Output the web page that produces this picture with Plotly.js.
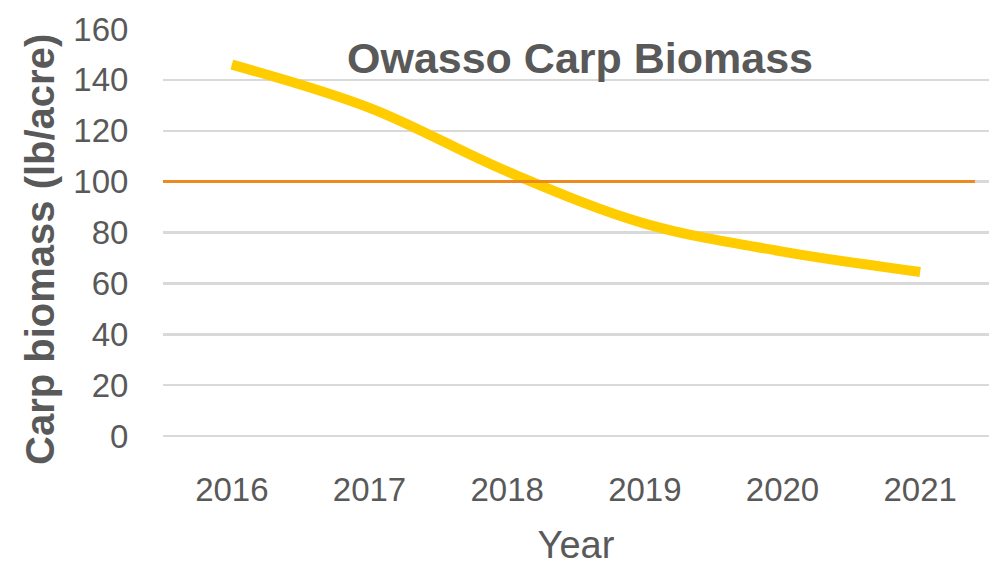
<!DOCTYPE html>
<html>
<head>
<meta charset="utf-8">
<script src="https://cdn.plot.ly/plotly-3.0.1.min.js"></script>
<style>html,body{margin:0;padding:0;background:#fff;}#chart{width:995px;height:566px;}</style>
</head>
<body>
<div id="chart"></div>
<script>
const years = ['2016', '2017', '2018', '2019', '2020', '2021'];
const biomass = [146, 129, 104, 83.5, 72.5, 64.5];
const target = 100;
const yTicks = [0, 20, 40, 60, 80, 100, 120, 140, 160];

const textColor = '#595959';
const font = 'Liberation Sans, Arial, sans-serif';

const data = [{
  x: years,
  y: biomass,
  type: 'scatter',
  mode: 'lines',
  line: {color: '#FFCC00', width: 10, shape: 'spline', smoothing: 1},
  hoverinfo: 'x+y'
}];

const layout = {
  width: 995,
  height: 566,
  margin: {l: 163, r: 6, t: 29, b: 130},
  paper_bgcolor: '#ffffff',
  plot_bgcolor: '#ffffff',
  showlegend: false,
  title: {
    text: '<b>Owasso Carp Biomass</b>',
    font: {family: font, size: 43, color: textColor},
    x: 580 / 995,
    xanchor: 'center',
    y: 1 - 73 / 566,
    yanchor: 'bottom'
  },
  xaxis: {
    type: 'category',
    range: [-0.5, 5.5],
    showgrid: false,
    zeroline: false,
    showline: false,
    ticks: 'outside',
    ticklen: 24,
    tickcolor: 'rgba(0,0,0,0)',
    tickfont: {family: font, size: 33, color: textColor},
    title: {text: 'Year', font: {family: font, size: 38, color: textColor}, standoff: 40}
  },
  yaxis: {
    range: [0, 160],
    tickvals: yTicks,
    showgrid: true,
    gridcolor: '#D9D9D9',
    gridwidth: 2.5,
    zeroline: true,
    zerolinecolor: '#D9D9D9',
    zerolinewidth: 2.5,
    showline: false,
    ticks: 'outside',
    ticklen: 27,
    tickcolor: 'rgba(0,0,0,0)',
    tickfont: {family: font, size: 33, color: textColor}
  },
  annotations: [{
    text: '<b>Carp biomass (lb/acre)</b>',
    textangle: -90,
    xref: 'paper',
    yref: 'paper',
    x: (40 - 163) / 826,
    y: (436 - 250) / 407,
    xanchor: 'center',
    yanchor: 'middle',
    showarrow: false,
    font: {family: font, size: 40, color: textColor}
  }],
  shapes: [{
    type: 'line',
    xref: 'paper',
    yref: 'y',
    x0: 0,
    x1: 0.983,
    y0: target,
    y1: target,
    line: {color: '#ED8A1E', width: 3},
    layer: 'above'
  }]
};

Plotly.newPlot('chart', data, layout, {displayModeBar: false, staticPlot: true});
</script>
</body>
</html>
